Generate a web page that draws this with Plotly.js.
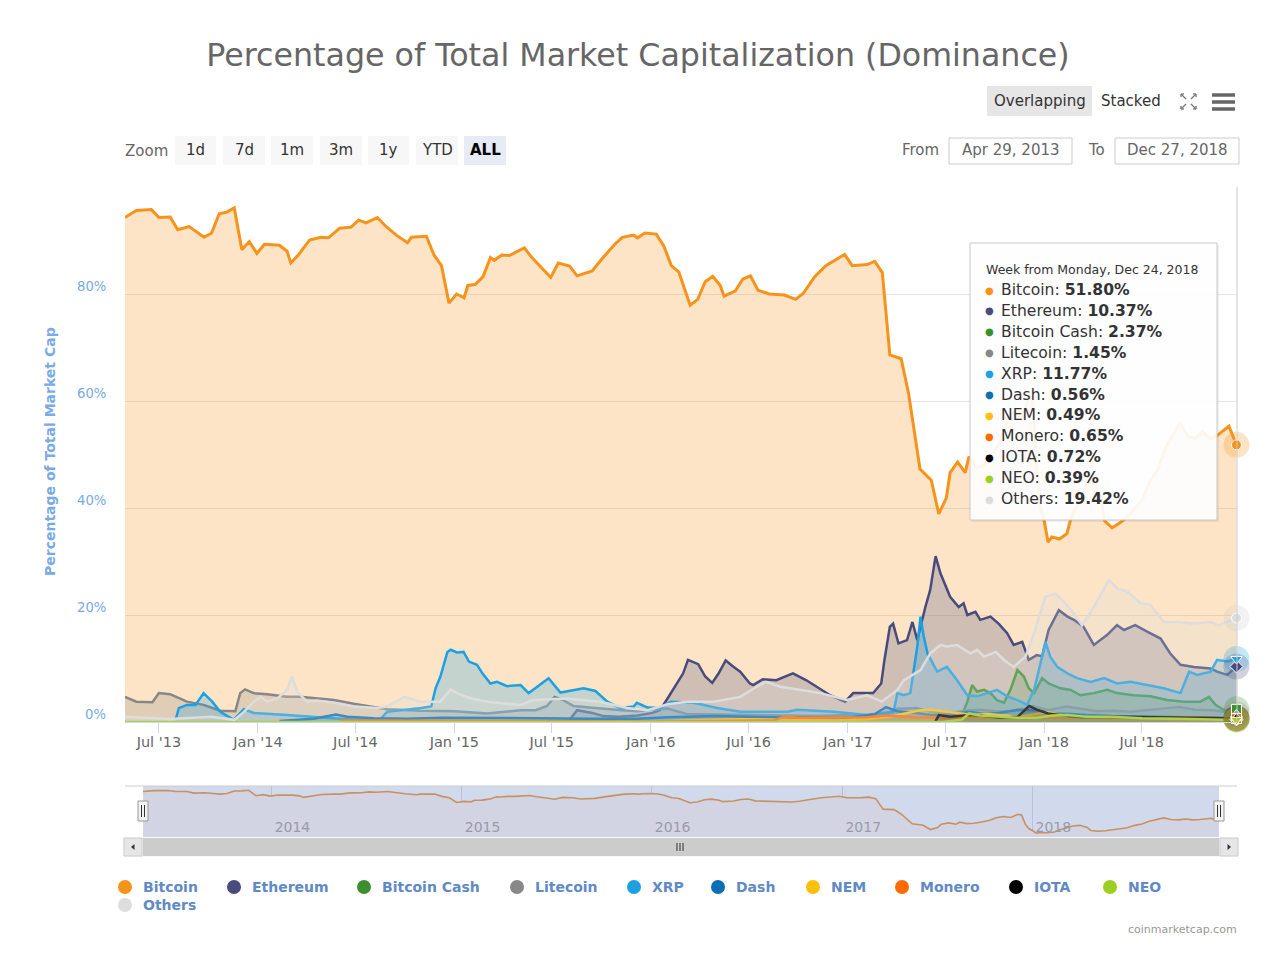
<!DOCTYPE html>
<html><head><meta charset="utf-8">
<script src="https://cdn.plot.ly/plotly-3.0.1.min.js"></script>
<style>html,body{margin:0;padding:0;background:#fff}#chart{width:1280px;height:958px}</style>
</head><body><div id="chart"></div>
<script>
// ---------------- DATA ----------------
const seriesNames = ['Bitcoin','Ethereum','Bitcoin Cash','Litecoin','XRP','Dash','NEM','Monero','IOTA','NEO','Others'];

const btcDates = ['2013-04-29','2013-05-20','2013-06-17','2013-07-01','2013-07-22','2013-08-05','2013-08-26','2013-09-23','2013-10-07','2013-10-21','2013-11-04','2013-11-18','2013-12-02','2013-12-16','2013-12-30','2014-01-13','2014-02-10','2014-02-24','2014-03-03','2014-03-17','2014-04-07','2014-04-28','2014-05-12','2014-06-02','2014-06-23','2014-07-07','2014-07-21','2014-08-11','2014-08-25','2014-09-15','2014-10-06','2014-10-13','2014-11-10','2014-11-24','2014-12-08','2014-12-22','2015-01-05','2015-01-19','2015-01-26','2015-02-09','2015-02-23','2015-03-09','2015-03-16','2015-03-30','2015-04-13','2015-05-11','2015-05-25','2015-06-15','2015-06-29','2015-07-13','2015-08-03','2015-08-17','2015-09-14','2015-10-05','2015-10-26','2015-11-09','2015-11-30','2015-12-07','2015-12-21','2016-01-11','2016-01-25','2016-02-08','2016-02-22','2016-03-14','2016-03-28','2016-04-11','2016-04-25','2016-05-09','2016-05-16','2016-06-06','2016-06-20','2016-07-04','2016-07-18','2016-08-08','2016-09-05','2016-09-26','2016-10-10','2016-10-31','2016-11-21','2016-12-26','2017-01-09','2017-02-06','2017-02-20','2017-03-06','2017-03-20','2017-04-10','2017-04-24','2017-05-15','2017-06-05','2017-06-19','2017-07-03','2017-07-10','2017-07-24','2017-08-07','2017-08-14','2017-08-28','2017-09-11','2017-09-25','2017-10-09','2017-10-23','2017-11-06','2017-11-20','2017-12-04','2017-12-11','2017-12-18','2017-12-25','2018-01-01','2018-01-08','2018-01-15','2018-01-29','2018-02-12','2018-02-19','2018-03-05','2018-03-19','2018-04-02','2018-04-16','2018-04-23','2018-05-07','2018-05-21','2018-06-04','2018-06-18','2018-07-02','2018-07-16','2018-07-30','2018-08-13','2018-08-27','2018-09-10','2018-09-24','2018-10-08','2018-10-22','2018-11-05','2018-11-19','2018-12-10','2018-12-24'];
const btcValues = [94.3,95.6,95.8,94.3,94.4,92.0,92.6,90.6,91.4,95.0,95.3,96.1,88.3,89.8,87.6,89.3,89.1,88.0,85.8,87.3,90.1,90.6,90.5,92.3,92.5,93.8,93.3,94.3,92.8,91.0,89.6,90.6,90.8,87.3,85.3,78.3,80.0,79.3,81.6,81.8,83.2,86.8,86.3,87.3,87.2,88.6,86.8,84.6,83.1,85.8,85.2,83.4,84.3,86.9,89.3,90.6,91.0,90.5,91.4,91.2,89.0,85.3,84.1,77.9,79.0,82.3,83.3,81.6,79.6,80.6,82.8,83.4,80.7,80.0,79.8,79.0,80.1,83.2,85.3,87.4,85.3,85.5,86.1,84.0,68.6,67.9,61.3,47.3,45.2,38.9,41.9,46.6,48.6,46.6,49.6,47.5,48.0,50.0,52.0,56.0,58.0,56.5,61.0,60.0,47.0,40.0,37.5,33.6,34.6,34.2,35.2,37.9,41.0,44.0,45.0,42.0,37.6,36.3,37.2,38.3,40.0,41.5,45.0,47.0,51.0,53.5,55.9,53.5,53.0,54.2,53.0,53.6,55.3,51.80];

const ethDates = ['2015-08-03','2015-08-17','2015-09-14','2015-10-05','2015-11-02','2015-12-07','2016-01-04','2016-01-18','2016-02-01','2016-03-01','2016-03-10','2016-03-29','2016-04-11','2016-04-24','2016-05-06','2016-05-19','2016-06-03','2016-06-15','2016-07-03','2016-07-09','2016-07-27','2016-08-21','2016-09-21','2016-10-16','2016-11-29','2016-12-27','2017-01-11','2017-02-17','2017-03-04','2017-03-10','2017-03-20','2017-03-26','2017-04-05','2017-04-21','2017-05-01','2017-05-10','2017-05-25','2017-06-03','2017-06-13','2017-06-22','2017-07-10','2017-07-26','2017-08-04','2017-08-11','2017-08-26','2017-09-04','2017-09-23','2017-10-08','2017-10-24','2017-11-05','2017-11-21','2017-12-03','2017-12-18','2017-12-28','2018-01-09','2018-01-28','2018-02-13','2018-02-25','2018-03-15','2018-04-03','2018-04-28','2018-05-16','2018-05-29','2018-06-19','2018-07-11','2018-07-23','2018-08-05','2018-08-23','2018-09-11','2018-10-06','2018-11-06','2018-11-18','2018-12-07','2018-12-24'];
const ethValues = [0.4,2.2,1.7,1.1,1.0,1.2,1.7,2.2,4.4,9.1,11.6,10.8,8.5,7.3,9.1,11.5,10.3,9.4,7.2,6.9,8.0,7.8,9.1,7.8,5.0,3.8,5.4,5.4,7.2,11.6,17.8,18.4,14.7,15.3,18.7,15.3,21.5,24.7,31.0,27.8,23.4,21.5,22.2,20.0,20.6,19.1,19.7,18.4,16.6,14.4,15.0,11.6,12.5,12.3,17.2,20.9,19.7,19.1,17.8,14.4,16.3,18.1,17.2,18.1,16.9,16.3,15.6,12.8,10.7,10.3,10.0,9.4,8.8,10.37];

const bchDates = ['2017-07-31','2017-08-11','2017-08-20','2017-08-29','2017-09-11','2017-09-23','2017-10-05','2017-10-18','2017-10-30','2017-11-12','2017-11-24','2017-12-03','2017-12-13','2017-12-28','2018-01-09','2018-01-31','2018-02-19','2018-03-09','2018-04-03','2018-04-28','2018-05-16','2018-06-16','2018-07-17','2018-08-17','2018-09-17','2018-10-18','2018-11-03','2018-11-15','2018-12-01','2018-12-24'];
const bchValues = [1.0,3.8,6.9,5.7,6.0,5.4,4.1,3.6,6.0,9.7,8.5,6.3,5.4,8.2,7.2,6.3,6.0,5.0,5.4,6.0,5.4,5.0,4.8,4.1,3.8,3.8,4.7,3.2,2.2,2.37];

const ltcDates = ['2013-04-29','2013-05-20','2013-06-19','2013-07-01','2013-07-22','2013-08-22','2013-09-22','2013-10-23','2013-11-20','2013-11-29','2013-12-08','2013-12-24','2014-01-18','2014-02-24','2014-03-20','2014-04-27','2014-05-22','2014-06-28','2014-07-30','2014-08-29','2014-10-31','2015-01-01','2015-03-03','2015-05-04','2015-06-01','2015-06-22','2015-07-06','2015-07-20','2015-08-10','2015-09-07','2015-10-05','2015-11-09','2015-12-07','2016-01-04','2016-02-01','2016-03-07','2016-05-02','2016-07-04','2016-09-05','2016-11-07','2017-01-02','2017-03-06','2017-04-03','2017-05-08','2017-06-05','2017-07-03','2017-08-07','2017-09-04','2017-10-02','2017-11-06','2017-12-11','2018-01-08','2018-02-12','2018-03-12','2018-04-09','2018-05-07','2018-06-11','2018-08-06','2018-09-10','2018-10-08','2018-11-12','2018-12-24'];
const ltcValues = [4.7,3.8,3.7,5.4,5.2,3.8,3.2,2.1,2.0,5.4,6.1,5.4,5.2,4.7,4.7,4.4,4.1,3.4,2.9,2.4,2.1,2.0,1.6,2.2,2.2,3.0,4.7,4.2,3.0,2.8,2.5,2.2,2.0,2.4,2.5,1.5,1.4,1.3,1.2,1.1,1.3,1.1,2.5,2.6,1.9,1.6,2.1,2.3,2.0,2.0,3.0,2.2,2.9,2.5,2.0,2.1,1.9,2.5,2.8,2.3,2.2,1.45];

const xrpDates = ['2013-08-01','2013-08-07','2013-08-22','2013-09-07','2013-09-22','2013-10-08','2013-10-23','2013-11-17','2013-12-06','2013-12-24','2014-02-24','2014-04-27','2014-06-28','2014-08-16','2014-08-29','2014-10-31','2014-11-19','2014-11-27','2014-12-06','2014-12-19','2014-12-25','2015-01-06','2015-01-18','2015-01-28','2015-02-12','2015-02-22','2015-03-09','2015-03-21','2015-04-09','2015-05-04','2015-05-19','2015-06-04','2015-06-25','2015-07-17','2015-08-29','2015-09-20','2015-10-12','2015-11-05','2015-11-30','2015-12-06','2015-12-26','2016-01-19','2016-02-07','2016-03-21','2016-05-03','2016-06-15','2016-09-11','2016-09-29','2016-12-06','2017-02-06','2017-03-03','2017-03-27','2017-04-03','2017-04-15','2017-04-27','2017-05-03','2017-05-10','2017-05-16','2017-05-22','2017-05-29','2017-06-16','2017-07-04','2017-07-23','2017-08-11','2017-08-29','2017-09-17','2017-10-05','2017-10-24','2017-11-12','2017-11-30','2017-12-13','2017-12-25','2018-01-03','2018-01-12','2018-01-25','2018-02-13','2018-03-03','2018-03-28','2018-04-22','2018-05-16','2018-06-10','2018-07-11','2018-08-11','2018-09-11','2018-09-27','2018-10-12','2018-11-06','2018-11-18','2018-12-07','2018-12-24'];
const xrpValues = [0.4,2.6,3.2,3.2,5.4,3.8,1.9,0.4,2.4,1.7,1.3,0.9,0.4,0.5,1.9,2.6,2.9,6.3,8.5,13.1,13.5,13.0,13.1,11.3,10.7,9.1,7.2,7.5,6.7,6.9,5.4,6.6,8.2,5.5,6.3,5.8,3.8,2.6,2.9,3.6,2.7,2.6,3.8,3.6,2.6,1.9,1.9,2.3,1.9,1.3,1.6,1.9,5.4,5.0,5.4,9.7,14.1,19.7,16.0,12.8,9.4,10.3,7.8,5.0,4.8,5.4,6.0,4.8,4.1,3.2,6.0,11.0,15.0,12.2,10.3,9.1,8.2,7.5,8.2,7.2,7.5,6.9,6.3,5.4,9.4,8.8,9.4,11.6,11.3,11.77];

const dashDates = ['2014-02-10','2014-04-14','2014-05-26','2014-06-16','2014-08-04','2014-10-06','2014-12-08','2015-03-02','2015-06-01','2015-09-07','2015-12-07','2016-02-01','2016-05-02','2016-08-01','2016-11-07','2017-01-02','2017-02-20','2017-03-13','2017-04-03','2017-05-08','2017-06-05','2017-07-03','2017-08-14','2017-09-11','2017-10-09','2017-11-13','2017-12-18','2018-01-15','2018-02-19','2018-03-19','2018-05-07','2018-07-02','2018-09-03','2018-11-05','2018-12-24'];
const dashValues = [0.2,0.6,1.4,1.0,0.7,0.6,0.8,0.8,0.7,0.6,0.6,0.9,1.1,0.9,0.8,0.8,1.5,2.8,2.0,1.7,1.3,1.3,1.9,1.5,1.7,2.3,2.2,1.6,1.5,1.3,1.1,1.0,0.9,0.8,0.56];

const nemDates = ['2015-04-06','2016-01-04','2016-06-13','2016-09-05','2016-12-05','2017-02-06','2017-03-20','2017-04-17','2017-05-15','2017-06-05','2017-06-26','2017-07-24','2017-08-21','2017-09-18','2017-10-16','2017-11-13','2017-12-11','2018-01-08','2018-02-05','2018-03-12','2018-05-07','2018-07-09','2018-09-10','2018-11-12','2018-12-24'];
const nemValues = [0.1,0.1,0.5,0.4,0.3,0.5,1.0,1.6,2.2,2.3,2.0,1.6,1.3,1.5,1.2,1.0,1.4,1.8,1.2,1.0,0.9,0.7,0.5,0.6,0.49];

const xmrDates = ['2014-06-02','2015-01-05','2016-01-04','2016-08-15','2016-09-05','2016-10-03','2016-12-26','2017-02-06','2017-03-13','2017-05-08','2017-07-03','2017-09-04','2017-11-06','2017-12-25','2018-02-05','2018-04-16','2018-07-02','2018-10-01','2018-12-24'];
const xmrValues = [0.3,0.2,0.1,0.3,1.0,0.8,0.9,0.9,1.2,0.9,0.8,0.9,0.8,0.9,0.9,0.9,0.8,0.9,0.65];

const iotaDates = ['2017-06-12','2017-06-19','2017-07-10','2017-08-14','2017-09-04','2017-10-09','2017-11-13','2017-12-04','2017-12-18','2018-01-08','2018-02-05','2018-03-12','2018-05-07','2018-07-02','2018-09-10','2018-11-12','2018-12-24'];
const iotaValues = [0.0,1.3,1.0,1.3,1.2,0.8,1.0,3.0,2.3,1.6,1.2,0.9,1.0,0.9,0.8,0.7,0.72];

const neoDates = ['2013-04-29','2017-06-26','2017-07-31','2017-08-14','2017-09-04','2017-10-09','2017-11-13','2017-12-18','2018-01-15','2018-02-12','2018-03-19','2018-05-07','2018-07-02','2018-09-10','2018-11-12','2018-12-24'];
const neoValues = [0.0,0.0,0.4,1.6,1.2,1.0,0.8,0.8,1.2,1.3,1.0,1.0,0.7,0.6,0.5,0.39];

const othDates = ['2013-04-29','2013-07-22','2013-10-07','2013-11-18','2013-12-06','2013-12-24','2014-01-06','2014-01-18','2014-02-06','2014-02-24','2014-03-05','2014-03-15','2014-04-02','2014-04-21','2014-05-28','2014-06-28','2014-08-10','2014-08-29','2014-09-30','2014-10-31','2014-12-06','2014-12-25','2015-01-06','2015-02-01','2015-03-03','2015-03-28','2015-05-04','2015-05-28','2015-07-29','2015-09-29','2015-11-18','2015-12-26','2016-02-01','2016-03-08','2016-04-27','2016-06-15','2016-07-16','2016-08-01','2016-08-29','2016-10-04','2016-11-11','2016-12-30','2017-02-06','2017-03-05','2017-04-03','2017-04-15','2017-05-16','2017-06-03','2017-06-22','2017-07-04','2017-07-23','2017-08-17','2017-08-29','2017-09-11','2017-10-03','2017-10-18','2017-11-05','2017-11-27','2017-12-15','2018-01-03','2018-01-22','2018-02-06','2018-02-25','2018-03-12','2018-04-03','2018-05-01','2018-05-16','2018-06-04','2018-06-29','2018-07-17','2018-08-11','2018-09-05','2018-10-06','2018-11-06','2018-11-21','2018-12-24'];
const othValues = [1.0,0.56,1.0,0.4,1.9,3.8,4.7,3.8,4.4,6.0,8.5,5.7,3.8,4.0,3.5,2.9,2.6,2.9,4.7,3.8,3.8,6.1,5.4,4.4,3.8,3.5,3.2,4.1,4.4,3.8,2.6,2.2,3.3,3.8,3.8,4.7,6.6,7.5,6.6,6.0,5.4,4.1,5.0,3.8,6.0,7.8,9.7,12.8,14.4,14.1,14.4,12.8,13.5,12.2,13.1,11.6,10.3,12.2,17.2,23.4,24.0,22.5,20.3,18.1,21.5,26.5,25.0,24.4,22.2,21.9,18.7,18.7,18.4,18.7,18.1,19.42];

const yTickVals = [0, 20, 40, 60, 80];
const zoomButtons = ['1d','7d','1m','3m','1y','YTD','ALL'];

// ---------------- STYLE ----------------
const seriesColors = ['#f7931a','#484b7c','#3b8f2e','#878787','#1ba1e2','#0b6fb5','#fbbf10','#ff6b00','#000000','#9dcf22','#dddddd'];
const seriesDates = [btcDates,ethDates,bchDates,ltcDates,xrpDates,dashDates,nemDates,xmrDates,iotaDates,neoDates,othDates];
const seriesValues = [btcValues,ethValues,bchValues,ltcValues,xrpValues,dashValues,nemValues,xmrValues,iotaValues,neoValues,othValues];
const markerSymbols = ['circle','diamond','square','triangle-up','triangle-down'];

const FONT = 'DejaVu Sans, sans-serif';
const W = 1280, H = 958;
const px = x => x / W, py = y => 1 - y / H;
function rgba(hex, a){const n=parseInt(hex.slice(1),16);return `rgba(${n>>16&255},${n>>8&255},${n&255},${a})`;}

const traces = [];
seriesNames.forEach((name,i)=>{
  traces.push({type:'scatter',mode:'lines',name:name,x:seriesDates[i],y:seriesValues[i],xaxis:'x',yaxis:'y',
    fill:'tozeroy',fillcolor:rgba(seriesColors[i],0.25),line:{color:seriesColors[i],width:i===0?3:2.5},
    hoverinfo:'skip',showlegend:false});
});
// navigator
traces.push({type:'scatter',mode:'lines',x:btcDates,y:btcValues,xaxis:'x2',yaxis:'y2',fill:'tozeroy',
  fillcolor:'rgb(211,212,227)',line:{color:'#c9915f',width:1.6},hoverinfo:'skip',showlegend:false});
// hover halos + markers at last point
const lastX = seriesDates.map(d=>d[d.length-1]);
const lastY = seriesValues.map(v=>v[v.length-1]);
traces.push({type:'scatter',mode:'markers',x:lastX,y:lastY,xaxis:'x',yaxis:'y',cliponaxis:false,hoverinfo:'skip',showlegend:false,
  marker:{size:26,color:seriesColors.map(c=>rgba(c==='#dddddd'?'#cccccc':c,0.25)),line:{width:0}}});
traces.push({type:'scatter',mode:'markers',x:lastX,y:lastY,xaxis:'x',yaxis:'y',cliponaxis:false,hoverinfo:'skip',showlegend:false,
  marker:{size:10,color:seriesColors,symbol:seriesNames.map((n,i)=>markerSymbols[i%5]),line:{width:1,color:'#ffffff'}}});

const shapes = [];
const annotations = [];
function rect(x0,y0,x1,y1,fill,line,lw,layer){shapes.push({type:'rect',xref:'paper',yref:'paper',x0:px(x0),x1:px(x1),y0:py(y1),y1:py(y0),fillcolor:fill,line:{color:line||'rgba(0,0,0,0)',width:lw||0},layer:layer||'above'});}
function seg(x0,y0,x1,y1,color,w){shapes.push({type:'line',xref:'paper',yref:'paper',x0:px(x0),x1:px(x1),y0:py(y0),y1:py(y1),line:{color:color,width:w}});}
function txt(x,y,t,size,color,anchor,extra){annotations.push(Object.assign({xref:'paper',yref:'paper',x:px(x),y:py(y),text:t,showarrow:false,xanchor:anchor||'center',yanchor:'middle',borderpad:0,font:{family:FONT,size:size,color:color}},extra||{}));}

// y tick labels
yTickVals.forEach(v=>annotations.push({xref:'paper',yref:'y',x:px(107),y:v,yshift:8,text:v+'%',showarrow:false,xanchor:'right',yanchor:'middle',borderpad:0,font:{family:FONT,size:13.2,color:'#77aae6'}}));
// y axis title
txt(50,452,'<b>Percentage of Total Market Cap</b>',14,'#77aae6','center',{textangle:-90});

// crosshair / right edge
seg(1237,187,1237,722,'#cccccc',1);

// header buttons
rect(987,86,1092,116,'#e6e6e6');
txt(1039.5,101,'Overlapping',15,'#333');
txt(1131,101,'Stacked',15,'#333');
// fullscreen icon
[[1181,94,1,1],[1196,94,-1,1],[1181,109,1,-1],[1196,109,-1,-1]].forEach(([x,y,dx,dy])=>{
  seg(x,y,x+5*dx,y+5*dy,'#777',1.3); seg(x,y,x+3*dx,y,'#777',1.3); seg(x,y,x,y+3*dy,'#777',1.3);
});
// hamburger
[95,102,109].forEach(y=>seg(1212,y,1235,y,'#666',3.5));

// zoom row
txt(146.5,151,'Zoom',15,'#666');
const zb = [[175,216],[223,265],[271,313],[320,362],[368,409],[416,458],[464,506]];
zoomButtons.forEach((b,i)=>{
  const sel = b==='ALL';
  rect(zb[i][0],136,zb[i][1],165,sel?'#e6ebf5':'#f7f7f7');
  txt((zb[i][0]+zb[i][1])/2,150,sel?'<b>'+b+'</b>':b,15,sel?'#000':'#333');
});
// from / to
txt(920,150,'From',15,'#666');
rect(949,138,1072,164,'#ffffff','#cccccc',1);
txt(1010.5,150,'Apr 29, 2013',15,'#666');
txt(1096,150,'To',15,'#666');
rect(1115,138,1239,164,'#ffffff','#cccccc',1);
txt(1177,150,'Dec 27, 2018',15,'#666');

// navigator background (mask) and chrome
rect(143,786,1219,837,'rgb(209,218,237)',null,0,'below');
seg(125,786,1237,786,'#cccccc',1);
// scrollbar
rect(124,838,1238,856,'#f2f2f2','#f2f2f2',1);
rect(143,838,1219,856,'#cccccc');
rect(124,838,142,856,'#e6e6e6','#cccccc',1);
rect(1220,838,1238,856,'#e6e6e6','#cccccc',1);
shapes.push({type:'path',xref:'paper',yref:'paper',path:`M ${px(131)} ${py(847)} L ${px(134.5)} ${py(844)} L ${px(134.5)} ${py(850)} Z`,fillcolor:'#333',line:{width:0}});
shapes.push({type:'path',xref:'paper',yref:'paper',path:`M ${px(1231)} ${py(847)} L ${px(1227.5)} ${py(844)} L ${px(1227.5)} ${py(850)} Z`,fillcolor:'#333',line:{width:0}});
[677,680,683].forEach(x=>seg(x,843,x,851,'#333',1));
// handles
[143,1219].forEach(cx=>{
  rect(cx-5,801,cx+5,821,'#f2f2f2','#999999',1);
  seg(cx-1.5,805,cx-1.5,817,'#333',1); seg(cx+1.5,805,cx+1.5,817,'#333',1);
});

// legend
const legendPos = [[125,887],[234,887],[364,887],[517,887],[634,887],[718,887],[813,887],[902,887],[1016,887],[1110,887],[125,905]];
seriesNames.forEach((n,i)=>{
  const [cx,cy]=legendPos[i];
  shapes.push({type:'circle',xref:'paper',yref:'paper',x0:px(cx-7),x1:px(cx+7),y0:py(cy+7),y1:py(cy-7),fillcolor:seriesColors[i],line:{width:0}});
  txt(cx+17,cy,'<b>'+n+'</b>',14,'#5f8ac6','left');
});
// credits
txt(1238,929,'coinmarketcap.com',11,'#999','right');

// tooltip
rect(972,245,1219,522,'rgba(0,0,0,0.06)');
rect(970,243,1217,520,'rgba(255,255,255,0.92)','#c8c8c8',1);
const months=['Jan','Feb','Mar','Apr','May','Jun','Jul','Aug','Sep','Oct','Nov','Dec'];
const ld = new Date(btcDates[btcDates.length-1]+'T00:00:00Z');
txt(985,270,`Week from Monday, ${months[ld.getUTCMonth()]} ${ld.getUTCDate()}, ${ld.getUTCFullYear()}`,12.5,'#333','left');
seriesNames.forEach((n,i)=>{
  const y = 290 + i*20.9;
  txt(989,y,'●',10,seriesColors[i]);
  txt(1000,y,`${n}: <b>${lastY[i].toFixed(2)}%</b>`,15.6,'#333','left');
});

const range = ['2013-04-29','2018-12-25'];
const layout = {
  width:W,height:H,margin:{l:0,r:0,t:0,b:0},paper_bgcolor:'#ffffff',plot_bgcolor:'rgba(0,0,0,0)',showlegend:false,
  title:{text:'Percentage of Total Market Capitalization (Dominance)',x:px(638),y:py(55),xanchor:'center',yanchor:'middle',font:{family:FONT,size:31.7,color:'#666'}},
  xaxis:{domain:[px(125),px(1237)],range:range,type:'date',tickformat:"%b '%y",dtick:'M6',tick0:'2013-07-01',ticks:'outside',ticklen:10,tickcolor:'#ccd6eb',
    ticklabelstandoff:-3,tickfont:{family:FONT,size:14.5,color:'#666'},showgrid:false,showline:true,linecolor:'#ccd6eb',zeroline:false,fixedrange:true,anchor:'y'},
  yaxis:{domain:[py(722),py(187)],range:[0,100],dtick:20,tick0:0,showgrid:true,gridcolor:'#e6e6e6',showticklabels:false,zeroline:false,fixedrange:true,anchor:'x'},
  xaxis2:{domain:[px(143),px(1219)],range:range,type:'date',anchor:'y2',dtick:'M12',tick0:'2014-01-01',tickformat:'%Y',ticklabelposition:'inside right',
    ticklabelstandoff:-4,ticklabelshift:3,
    tickfont:{family:FONT,size:14,color:'#9a9aa8'},showgrid:true,gridcolor:'rgba(140,145,170,0.35)',ticks:'',showline:false,zeroline:false,fixedrange:true},
  yaxis2:{domain:[py(837),py(786)],range:[28,102.4],anchor:'x2',showgrid:false,showticklabels:false,zeroline:false,fixedrange:true},
  shapes:shapes,annotations:annotations
};
Plotly.newPlot('chart',traces,layout,{staticPlot:true,displayModeBar:false});
</script></body></html>
